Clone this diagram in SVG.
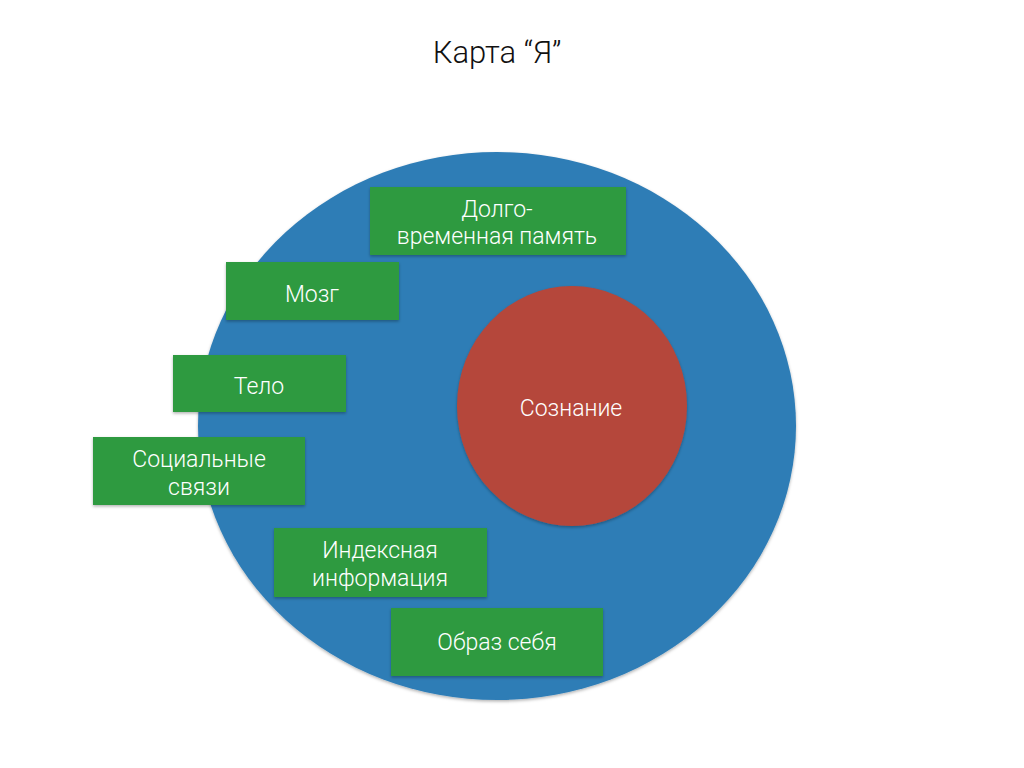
<svg xmlns="http://www.w3.org/2000/svg" width="1024" height="768" viewBox="0 0 1024 768">
<defs>
<filter id="sh" x="-10%" y="-10%" width="120%" height="130%">
<feDropShadow dx="0" dy="1.5" stdDeviation="1.5" flood-color="#000" flood-opacity="0.3"/>
</filter>
</defs>
<style>
.box{fill:#2f9a40;filter:url(#sh)}
.lbl{font-family:Roboto,"Liberation Sans",Arial,sans-serif;font-weight:300;font-size:23px;fill:#ffffff;text-anchor:middle}
.title{font-family:Roboto,"Liberation Sans",Arial,sans-serif;font-weight:300;font-size:31px;fill:#111111;text-anchor:middle}
</style>
<rect x="0" y="0" width="1024" height="768" fill="#ffffff"/>
<text class="title" x="497" y="63">Карта “Я”</text>
<g id="ya">
<ellipse cx="497" cy="426" rx="299" ry="274" fill="#2f7db6" filter="url(#sh)"/>
</g>
<g id="soznanie">
<ellipse cx="572" cy="406" rx="115" ry="120" fill="#b5473a" filter="url(#sh)"/>
<text class="lbl" x="571" y="416">Сознание</text>
</g>
<g id="dolgo">
<rect class="box" x="370" y="187" width="256" height="68"/>
<text class="lbl" x="497" y="217">Долго-</text>
<text class="lbl" x="497" y="244">временная память</text>
</g>
<g id="mozg">
<rect class="box" x="226" y="262" width="173" height="58"/>
<text class="lbl" x="312" y="302">Мозг</text>
</g>
<g id="telo">
<rect class="box" x="173" y="355" width="173" height="57"/>
<text class="lbl" x="259" y="394">Тело</text>
</g>
<g id="social">
<rect class="box" x="93" y="437" width="212" height="68"/>
<text class="lbl" x="199" y="467">Социальные</text>
<text class="lbl" x="199" y="495">связи</text>
</g>
<g id="index">
<rect class="box" x="274" y="528" width="213" height="69"/>
<text class="lbl" x="380" y="558">Индексная</text>
<text class="lbl" x="380" y="586">информация</text>
</g>
<g id="obraz">
<rect class="box" x="391" y="608" width="212" height="68"/>
<text class="lbl" x="497" y="650">Образ себя</text>
</g>
<g id="connectors"/>
</svg>
